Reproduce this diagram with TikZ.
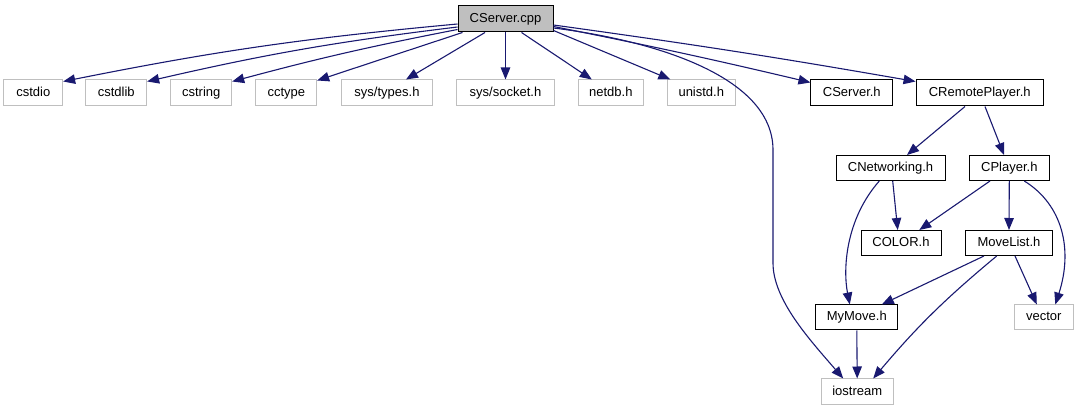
\documentclass[tikz,border=0pt]{standalone}
\usepackage{fontspec}
\setmainfont{Liberation Sans}
\usetikzlibrary{arrows.meta}
\definecolor{edgeblue}{HTML}{191970}
\definecolor{extgray}{HTML}{BFBFBF}
\tikzset{
  box/.style={draw=black, line width=1pt, fill=white, inner sep=0pt, minimum height=25pt,
    text height=9.4pt, text depth=2.8pt,
    font=\fontsize{13}{15}\selectfont},
  extbox/.style={box, draw=extgray},
  mainbox/.style={box, fill=extgray},
  dep/.style={draw=edgeblue, line width=1.1pt, -{Triangle[length=12pt,width=9.5pt]}},
}
\begin{document}
\begin{tikzpicture}[x=1pt,y=-1pt]
\useasboundingbox (0,0) rectangle (1079,411);
% nodes
\node[mainbox, minimum width=95pt, minimum height=26pt] (cpp) at (505.5,19) {CServer.cpp};
\node[extbox, minimum width=58.7pt, minimum height=26pt] (cstdio) at (33.3,93) {cstdio};
\node[extbox, minimum width=60.7pt, minimum height=26pt] (cstdlib) at (116.3,93) {cstdlib};
\node[extbox, minimum width=61pt, minimum height=26pt] (cstring) at (201.2,93) {cstring};
\node[extbox, minimum width=60.7pt, minimum height=26pt] (cctype) at (286.3,93) {cctype};
\node[extbox, minimum width=90.6pt, minimum height=26pt] (types) at (387,93) {sys/types.h};
\node[extbox, minimum width=97.6pt, minimum height=26pt] (socket) at (505.5,93) {sys/socket.h};
\node[extbox, minimum width=65pt, minimum height=26pt] (netdb) at (610.8,93) {netdb.h};
\node[extbox, minimum width=68pt, minimum height=26pt] (unistd) at (701.3,93) {unistd.h};
\node[box, minimum width=81.7pt, minimum height=26pt] (serverh) at (851.8,93) {CServer.h};
\node[box, minimum width=127.3pt, minimum height=26pt] (remote) at (979.7,93) {CRemotePlayer.h};
\node[box, minimum width=109pt] (net) at (890.5,168) {CNetworking.h};
\node[box, minimum width=80pt] (player) at (1009.3,168) {CPlayer.h};
\node[box, minimum width=80pt] (color) at (901,243) {COLOR.h};
\node[box, minimum width=86.7pt] (movelist) at (1009,243) {MoveList.h};
\node[box, minimum width=82.3pt] (mymove) at (856.8,317.5) {MyMove.h};
\node[extbox, minimum width=59pt] (vector) at (1043.8,317.5) {vector};
\node[extbox, minimum width=72.3pt, minimum height=26pt] (iostream) at (857.2,392) {iostream};
% edges
\draw[dep] ([yshift=-5pt]cpp.west) to[bend right=3] ([yshift=-2pt]cstdio.north east);
\draw[dep] ([yshift=-8pt]cpp.west) to[bend right=3] ([yshift=-2pt]cstdlib.north east);
\draw[dep] ([yshift=-10.5pt]cpp.west) to[bend right=2] ([yshift=-2pt]cstring.north east);
\draw[dep] ([xshift=5pt]cpp.south west) -- ([yshift=-1pt]cctype.north east);
\draw[dep] ([xshift=-20.5pt]cpp.south) -- ([xshift=19pt]types.north);
\draw[dep] (cpp.south) -- (socket.north);
\draw[dep] ([xshift=16pt]cpp.south) -- ([xshift=-19pt]netdb.north);
\draw[dep] ([yshift=-11.5pt]cpp.east) -- ([xshift=-31pt]unistd.north);
\draw[dep] ([yshift=-7.5pt]cpp.east) to[bend left=1] ([yshift=-3pt]serverh.north west);
\draw[dep] ([yshift=-6pt]cpp.east) to[bend left=1] ([yshift=-2pt]remote.north west);
\draw[dep] ([yshift=-9pt]cpp.east) .. controls (650,40) and (773,75) .. (773,150)
  -- (773,263) .. controls (773,300) and (810,340) .. ([xshift=-14pt]iostream.north);
\draw[dep] ([xshift=-14.7pt]remote.south) -- ([xshift=16.5pt]net.north);
\draw[dep] ([xshift=5.3pt]remote.south) -- ([xshift=-5.3pt]player.north);
\draw[dep] ([xshift=2.2pt]net.south) -- ([xshift=-3.3pt]color.north);
\draw[dep] ([xshift=-11.2pt]net.south) .. controls (845,220) and (843,270) .. ([xshift=-7pt]mymove.north);
\draw[dep] ([xshift=-19.3pt]player.south) -- ([xshift=18.3pt]color.north);
\draw[dep] (player.south) -- (movelist.north);
\draw[dep] ([xshift=15pt]player.south) .. controls (1063,205) and (1073,250) .. ([xshift=11.5pt]vector.north);
\draw[dep] ([xshift=-25pt]movelist.south) -- ([xshift=25pt]mymove.north);
\draw[dep] ([xshift=-12.3pt]movelist.south) to[bend right=5] ([xshift=16pt]iostream.north);
\draw[dep] ([xshift=6pt]movelist.south) -- ([xshift=-7pt]vector.north);
\draw[dep] (mymove.south) -- (iostream.north);
\end{tikzpicture}
\end{document}
